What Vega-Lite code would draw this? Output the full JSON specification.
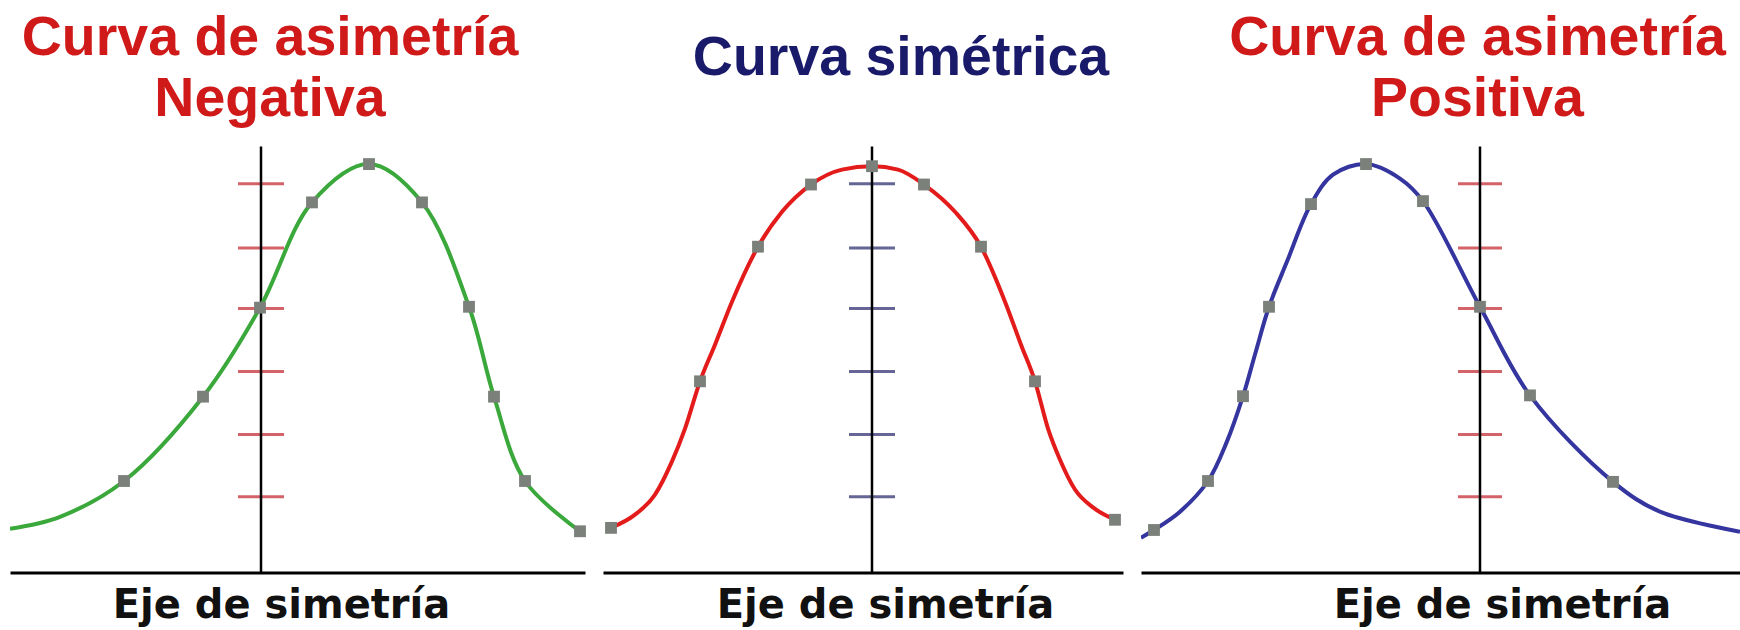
{
  "$schema": "https://vega.github.io/schema/vega-lite/v6.json",
  "background": "white",
  "padding": {"left": 10, "top": 10.6, "right": 0, "bottom": 2},
  "bounds": "flush",
  "spacing": 18,
  "datasets": {
    "curvas": [
      {"panel": "neg", "x": -25.1, "y": 10.3, "m": 0},
      {"panel": "neg", "x": -20.1, "y": 13.1, "m": 0},
      {"panel": "neg", "x": -13.7, "y": 21.5, "m": 1},
      {"panel": "neg", "x": -5.8, "y": 41.3, "m": 1},
      {"panel": "neg", "x": -0.1, "y": 62.2, "m": 1},
      {"panel": "neg", "x": 5.1, "y": 86.9, "m": 1},
      {"panel": "neg", "x": 10.8, "y": 95.9, "m": 1},
      {"panel": "neg", "x": 16.1, "y": 86.9, "m": 1},
      {"panel": "neg", "x": 20.8, "y": 62.4, "m": 1},
      {"panel": "neg", "x": 23.3, "y": 41.3, "m": 1},
      {"panel": "neg", "x": 26.4, "y": 21.5, "m": 1},
      {"panel": "neg", "x": 31.9, "y": 9.7, "m": 1},
      {"panel": "sim", "x": -26.1, "y": 10.5, "m": 1},
      {"panel": "sim", "x": -23.7, "y": 13.6, "m": 0},
      {"panel": "sim", "x": -21.7, "y": 18.3, "m": 0},
      {"panel": "sim", "x": -20.0, "y": 26.1, "m": 0},
      {"panel": "sim", "x": -18.7, "y": 33.8, "m": 0},
      {"panel": "sim", "x": -17.2, "y": 44.9, "m": 1},
      {"panel": "sim", "x": -15.7, "y": 53.5, "m": 0},
      {"panel": "sim", "x": -14.0, "y": 63.6, "m": 0},
      {"panel": "sim", "x": -11.4, "y": 76.5, "m": 1},
      {"panel": "sim", "x": -9.0, "y": 84.7, "m": 0},
      {"panel": "sim", "x": -6.1, "y": 91.1, "m": 1},
      {"panel": "sim", "x": -3.0, "y": 94.6, "m": 0},
      {"panel": "sim", "x": 0, "y": 95.4, "m": 1},
      {"panel": "sim", "x": 2.6, "y": 94.6, "m": 0},
      {"panel": "sim", "x": 5.2, "y": 91.1, "m": 1},
      {"panel": "sim", "x": 8.3, "y": 84.7, "m": 0},
      {"panel": "sim", "x": 10.9, "y": 76.5, "m": 1},
      {"panel": "sim", "x": 13.3, "y": 63.6, "m": 0},
      {"panel": "sim", "x": 14.9, "y": 53.5, "m": 0},
      {"panel": "sim", "x": 16.3, "y": 44.9, "m": 1},
      {"panel": "sim", "x": 17.6, "y": 33.8, "m": 0},
      {"panel": "sim", "x": 18.8, "y": 26.5, "m": 0},
      {"panel": "sim", "x": 20.3, "y": 19.5, "m": 0},
      {"panel": "sim", "x": 22.1, "y": 15.3, "m": 0},
      {"panel": "sim", "x": 24.3, "y": 12.4, "m": 1},
      {"panel": "pos", "x": -33.9, "y": 8.2, "m": 0},
      {"panel": "pos", "x": -32.6, "y": 10.0, "m": 1},
      {"panel": "pos", "x": -30.0, "y": 14.3, "m": 0},
      {"panel": "pos", "x": -27.2, "y": 21.5, "m": 1},
      {"panel": "pos", "x": -25.3, "y": 30.8, "m": 0},
      {"panel": "pos", "x": -23.7, "y": 41.4, "m": 1},
      {"panel": "pos", "x": -22.5, "y": 51.2, "m": 0},
      {"panel": "pos", "x": -21.1, "y": 62.4, "m": 1},
      {"panel": "pos", "x": -19.3, "y": 73.0, "m": 0},
      {"panel": "pos", "x": -16.9, "y": 86.5, "m": 1},
      {"panel": "pos", "x": -14.7, "y": 93.4, "m": 0},
      {"panel": "pos", "x": -11.4, "y": 95.9, "m": 1},
      {"panel": "pos", "x": -8.0, "y": 92.5, "m": 0},
      {"panel": "pos", "x": -5.7, "y": 87.2, "m": 1},
      {"panel": "pos", "x": 0, "y": 62.4, "m": 1},
      {"panel": "pos", "x": 5.0, "y": 41.6, "m": 1},
      {"panel": "pos", "x": 13.3, "y": 21.3, "m": 1},
      {"panel": "pos", "x": 18.0, "y": 14.3, "m": 0},
      {"panel": "pos", "x": 26.0, "y": 9.6, "m": 0}
    ],
    "marcas": [
      {"y": 17.8}, {"y": 32.4}, {"y": 47.2}, {"y": 62.0}, {"y": 76.2}, {"y": 91.3}
    ]
  },
  "config": {
    "view": {"stroke": null},
    "axisY": {"disable": true},
    "axisX": {
      "domain": true, "domainColor": "#000000", "domainWidth": 3,
      "ticks": false, "labels": false, "grid": false,
      "titleFont": "DejaVu Sans", "titleFontWeight": "bold", "titleFontSize": 40,
      "titleColor": "#111111", "titleAlign": "center", "titleBaseline": "alphabetic",
      "titleY": 45
    },
    "title": {"font": "Liberation Sans", "fontWeight": "bold", "fontSize": 55.5, "lineHeight": 61.5, "anchor": "middle"}
  },
  "hconcat": [
    {
      "width": 575, "height": 426,
      "title": {"text": ["Curva de asimetría", "Negativa"], "color": "#d01a1a", "offset": 17.4, "dx": -27.5},
      "layer": [
        {
          "data": {"name": "marcas"},
          "mark": {"type": "tick", "orient": "horizontal", "color": "#c0202a", "size": 46, "thickness": 3},
          "encoding": {
            "x": {"datum": 0, "type": "quantitative", "scale": {"domain": [-25.1, 32.4], "nice": false, "zero": false}},
            "y": {"field": "y", "type": "quantitative", "scale": {"domain": [0, 100], "nice": false, "zero": false}}
          }
        },
        {
          "data": {"values": [{}]},
          "mark": {"type": "rule", "color": "#000000", "strokeWidth": 2.5},
          "encoding": {
            "x": {"datum": 0, "type": "quantitative", "scale": {"domain": [-25.1, 32.4], "nice": false, "zero": false}},
            "y": {"datum": 0, "type": "quantitative", "scale": {"domain": [0, 100], "nice": false, "zero": false}},
            "y2": {"datum": 100}
          }
        },
        {
          "data": {"name": "curvas"},
          "transform": [{"filter": "datum.panel === 'neg'"}],
          "mark": {"type": "line", "interpolate": "catmull-rom", "color": "#3aa83a", "strokeWidth": 4, "clip": true},
          "encoding": {
            "x": {"field": "x", "type": "quantitative", "title": "Eje de simetría", "axis": {"titleX": 271}, "scale": {"domain": [-25.1, 32.4], "nice": false, "zero": false}},
            "y": {"field": "y", "type": "quantitative", "scale": {"domain": [0, 100], "nice": false, "zero": false}}
          }
        },
        {
          "data": {"name": "curvas"},
          "transform": [{"filter": "datum.panel === 'neg' && datum.m === 1"}],
          "mark": {"type": "square", "color": "#7b807b", "size": 140, "opacity": 1},
          "encoding": {
            "x": {"field": "x", "type": "quantitative", "scale": {"domain": [-25.1, 32.4], "nice": false, "zero": false}},
            "y": {"field": "y", "type": "quantitative", "scale": {"domain": [0, 100], "nice": false, "zero": false}}
          }
        }
      ]
    },
    {
      "width": 520, "height": 426,
      "title": {"text": "Curva simétrica", "color": "#1a1a6b", "offset": 58.9, "dx": 38},
      "layer": [
        {
          "data": {"name": "marcas"},
          "mark": {"type": "tick", "orient": "horizontal", "color": "#24246a", "size": 46, "thickness": 3},
          "encoding": {
            "x": {"datum": 0, "type": "quantitative", "scale": {"domain": [-26.9, 25.1], "nice": false, "zero": false}},
            "y": {"field": "y", "type": "quantitative", "scale": {"domain": [0, 100], "nice": false, "zero": false}}
          }
        },
        {
          "data": {"values": [{}]},
          "mark": {"type": "rule", "color": "#000000", "strokeWidth": 2.5},
          "encoding": {
            "x": {"datum": 0, "type": "quantitative", "scale": {"domain": [-26.9, 25.1], "nice": false, "zero": false}},
            "y": {"datum": 0, "type": "quantitative", "scale": {"domain": [0, 100], "nice": false, "zero": false}},
            "y2": {"datum": 100}
          }
        },
        {
          "data": {"name": "curvas"},
          "transform": [{"filter": "datum.panel === 'sim'"}],
          "mark": {"type": "line", "interpolate": "monotone", "color": "#e31b1b", "strokeWidth": 4, "clip": true},
          "encoding": {
            "x": {"field": "x", "type": "quantitative", "title": "Eje de simetría", "axis": {"titleX": 282}, "scale": {"domain": [-26.9, 25.1], "nice": false, "zero": false}},
            "y": {"field": "y", "type": "quantitative", "scale": {"domain": [0, 100], "nice": false, "zero": false}}
          }
        },
        {
          "data": {"name": "curvas"},
          "transform": [{"filter": "datum.panel === 'sim' && datum.m === 1"}],
          "mark": {"type": "square", "color": "#7b807b", "size": 140, "opacity": 1},
          "encoding": {
            "x": {"field": "x", "type": "quantitative", "scale": {"domain": [-26.9, 25.1], "nice": false, "zero": false}},
            "y": {"field": "y", "type": "quantitative", "scale": {"domain": [0, 100], "nice": false, "zero": false}}
          }
        }
      ]
    },
    {
      "width": 599, "height": 426,
      "title": {"text": ["Curva de asimetría", "Positiva"], "color": "#d01a1a", "offset": 17.4, "dx": 37},
      "layer": [
        {
          "data": {"name": "marcas"},
          "mark": {"type": "tick", "orient": "horizontal", "color": "#c0202a", "size": 44, "thickness": 3},
          "encoding": {
            "x": {"datum": 0, "type": "quantitative", "scale": {"domain": [-33.9, 26.0], "nice": false, "zero": false}},
            "y": {"field": "y", "type": "quantitative", "scale": {"domain": [0, 100], "nice": false, "zero": false}}
          }
        },
        {
          "data": {"values": [{}]},
          "mark": {"type": "rule", "color": "#000000", "strokeWidth": 2.5},
          "encoding": {
            "x": {"datum": 0, "type": "quantitative", "scale": {"domain": [-33.9, 26.0], "nice": false, "zero": false}},
            "y": {"datum": 0, "type": "quantitative", "scale": {"domain": [0, 100], "nice": false, "zero": false}},
            "y2": {"datum": 100}
          }
        },
        {
          "data": {"name": "curvas"},
          "transform": [{"filter": "datum.panel === 'pos'"}],
          "mark": {"type": "line", "interpolate": "catmull-rom", "color": "#3535a0", "strokeWidth": 4, "clip": true},
          "encoding": {
            "x": {"field": "x", "type": "quantitative", "title": "Eje de simetría", "axis": {"titleX": 361}, "scale": {"domain": [-33.9, 26.0], "nice": false, "zero": false}},
            "y": {"field": "y", "type": "quantitative", "scale": {"domain": [0, 100], "nice": false, "zero": false}}
          }
        },
        {
          "data": {"name": "curvas"},
          "transform": [{"filter": "datum.panel === 'pos' && datum.m === 1"}],
          "mark": {"type": "square", "color": "#7b807b", "size": 140, "opacity": 1},
          "encoding": {
            "x": {"field": "x", "type": "quantitative", "scale": {"domain": [-33.9, 26.0], "nice": false, "zero": false}},
            "y": {"field": "y", "type": "quantitative", "scale": {"domain": [0, 100], "nice": false, "zero": false}}
          }
        }
      ]
    }
  ]
}
